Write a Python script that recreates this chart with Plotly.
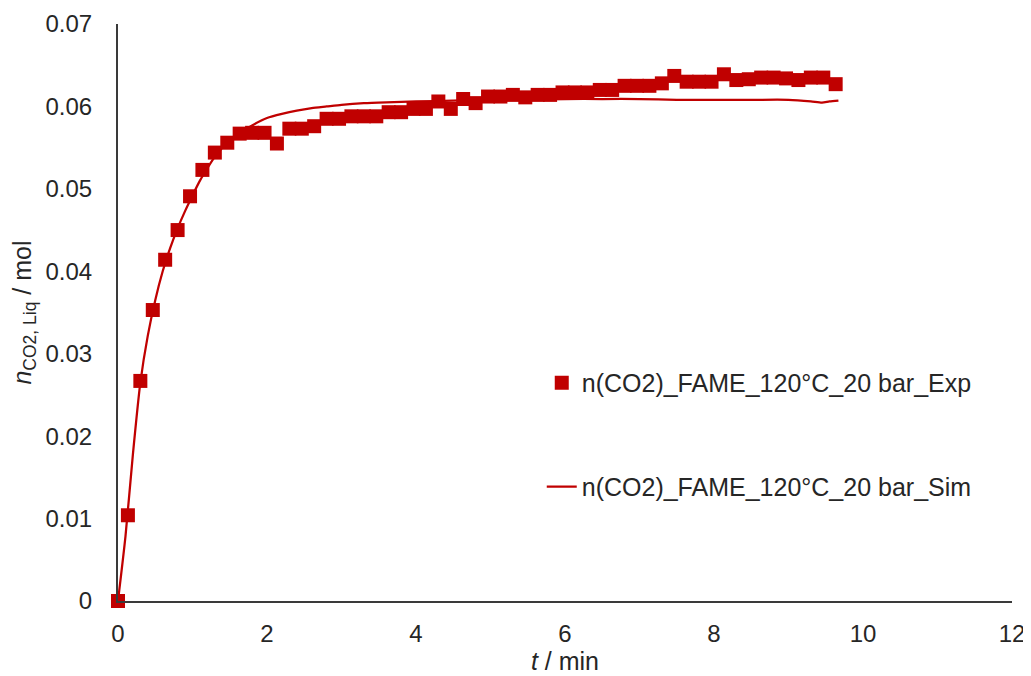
import plotly.graph_objects as go

# Experimental data
t_exp = [0, 0.133, 0.3, 0.467, 0.633, 0.8, 0.967, 1.133, 1.3, 1.467,
         1.633, 1.8, 1.967, 2.133, 2.3, 2.467, 2.633, 2.8, 2.967, 3.133,
         3.3, 3.467, 3.633, 3.8, 3.967, 4.133, 4.3, 4.467, 4.633, 4.8,
         4.967, 5.133, 5.3, 5.467, 5.633, 5.8, 5.967, 6.133, 6.3, 6.467,
         6.633, 6.8, 6.967, 7.133, 7.3, 7.467, 7.633, 7.8, 7.967, 8.133,
         8.3, 8.467, 8.633, 8.8, 8.967, 9.133, 9.3, 9.467, 9.633]
n_exp = [0, 0.0104, 0.0267, 0.0353, 0.0414, 0.0450, 0.0491, 0.0523, 0.0544, 0.0556,
         0.0567, 0.0568, 0.0568, 0.0555, 0.0573, 0.0573, 0.0576, 0.0585, 0.0585, 0.0588,
         0.0588, 0.0588, 0.0593, 0.0593, 0.0597, 0.0597, 0.0606, 0.0597, 0.0609, 0.0604,
         0.0612, 0.0612, 0.0614, 0.0611, 0.0614, 0.0614, 0.0617, 0.0617, 0.0617, 0.0620,
         0.0620, 0.0625, 0.0625, 0.0625, 0.0628, 0.0637, 0.0630, 0.0630, 0.0630, 0.0639,
         0.0632, 0.0633, 0.0635, 0.0635, 0.0634, 0.0632, 0.0635, 0.0635, 0.0627]

# Simulation data
t_sim = [0, 0.1, 0.2, 0.3, 0.4, 0.5, 0.6, 0.7, 0.8, 0.9, 1.0, 1.1, 1.2, 1.3,
         1.4, 1.5, 1.6, 1.8, 2.0, 2.2, 2.4, 2.6, 2.8, 3.0, 3.3, 3.6, 4.0,
         4.5, 5.0, 5.5, 6.0, 6.5, 7.0, 7.5, 8.0, 8.5, 9.0, 9.3, 9.45, 9.55, 9.67]
n_sim = [0, 0.0078, 0.0178, 0.0265, 0.0322, 0.0365, 0.0400, 0.0428, 0.0452, 0.0473,
         0.0492, 0.0510, 0.0525, 0.0539, 0.0550, 0.0559, 0.0566, 0.0577, 0.0586, 0.0591,
         0.0595, 0.0598, 0.0600, 0.0602, 0.0604, 0.0605, 0.0606, 0.0607, 0.0608, 0.0608,
         0.0609, 0.0609, 0.0609, 0.0608, 0.0608, 0.0608, 0.0608, 0.0606, 0.06045, 0.0606, 0.0607]

x_ticks = [0, 2, 4, 6, 8, 10, 12]
y_ticks = [0, 0.01, 0.02, 0.03, 0.04, 0.05, 0.06, 0.07]
y_tick_text = ["0", "0.01", "0.02", "0.03", "0.04", "0.05", "0.06", "0.07"]

RED = "#C00000"
TXT = "#262626"
FONT = "Liberation Sans, Arial, sans-serif"

fig = go.Figure()
fig.add_trace(go.Scatter(
    x=t_sim, y=n_sim, mode="lines",
    name="n(CO2)_FAME_120°C_20 bar_Sim",
    line=dict(color=RED, width=2.25, shape="spline", smoothing=0.6),
    legend="legend2",
))
fig.add_trace(go.Scatter(
    x=t_exp, y=n_exp, mode="markers",
    name="n(CO2)_FAME_120°C_20 bar_Exp",
    marker=dict(symbol="square", size=14, color=RED, line=dict(width=0)),
    cliponaxis=False,
    legend="legend",
))

fig.update_layout(
    width=1031, height=676, autosize=False,
    margin=dict(l=110, r=27, t=16, b=83),
    paper_bgcolor="white", plot_bgcolor="white",
    font=dict(family=FONT, size=24, color=TXT),
    showlegend=True,
    legend=dict(x=0.474, y=0.378, xanchor="left", yanchor="middle",
                bgcolor="rgba(0,0,0,0)", font=dict(size=25, color=TXT, family=FONT)),
    legend2=dict(x=0.474, y=0.198, xanchor="left", yanchor="middle",
                 bgcolor="rgba(0,0,0,0)", font=dict(size=25, color=TXT, family=FONT)),
    xaxis=dict(
        range=[0, 12], tickvals=x_ticks, ticktext=[str(v) for v in x_ticks],
        showgrid=False, zeroline=False, showline=True, linecolor="#3a3a3a", linewidth=2,
        ticks="", ticklen=0, tickfont=dict(size=24, color=TXT), ticklabelstandoff=10,
        automargin=False,
        title=dict(text="<i>t</i> / min", font=dict(size=25, color=TXT), standoff=2),
    ),
    yaxis=dict(
        range=[0, 0.07], tickvals=y_ticks, ticktext=y_tick_text,
        showgrid=False, zeroline=False, showline=True, linecolor="#3a3a3a", linewidth=2,
        ticks="", ticklen=0, tickfont=dict(size=24, color=TXT), ticklabelstandoff=19,
        automargin=False,
        title=dict(text="<i>n</i><sub>CO2, Liq</sub> / mol", font=dict(size=25, color=TXT), standoff=28),
    ),
)

fig.write_html("out.html")
